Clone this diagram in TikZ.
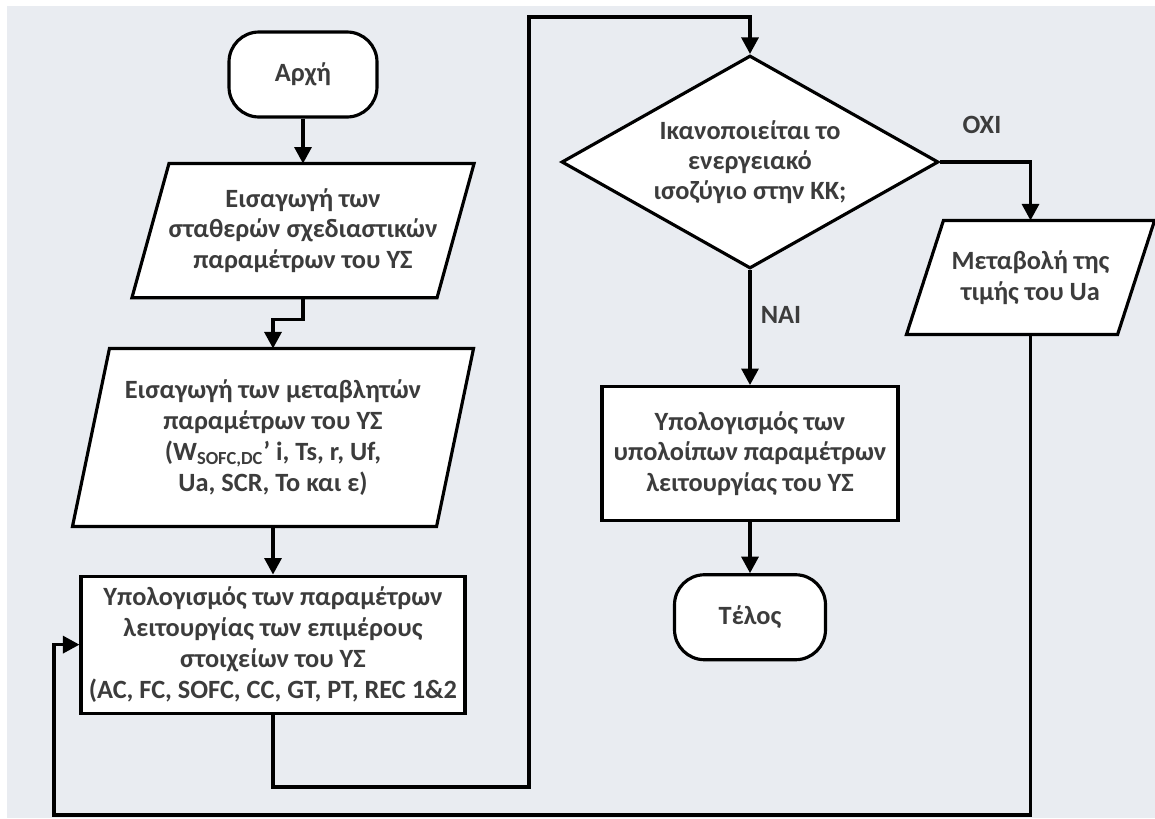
\documentclass[tikz,border=0pt]{standalone}
\usepackage{fontspec}
\setmainfont{Carlito}
\usetikzlibrary{positioning,shapes.geometric,arrows.meta,calc,backgrounds}
\definecolor{Panel}{RGB}{233,236,241}
\definecolor{Ink}{RGB}{60,60,60}

\begin{document}
\begin{tikzpicture}[x=0.02cm,y=-0.02cm,
    term/.style={rectangle,rounded corners=0.6cm,draw,line width=1.8pt,fill=white,
                 minimum width=2.96cm,minimum height=1.7cm,align=center,
                 font=\fontsize{15}{17.5}\selectfont\bfseries,text=Ink},
    inbox/.style={rectangle,inner sep=1pt,outer sep=0.9pt,align=center,
                  font=\fontsize{15}{17.5}\selectfont\bfseries,text=Ink},
    procbox/.style={rectangle,draw,line width=1.8pt,fill=white,inner sep=1pt,align=center,
                    font=\fontsize{15}{17.5}\selectfont\bfseries,text=Ink},
    decision/.style={diamond,aspect=1.77,draw,line width=1.8pt,fill=white,inner sep=0pt,
                     align=center,minimum width=7.54cm,minimum height=4.26cm,
                     font=\fontsize{15}{17}\selectfont\bfseries,text=Ink},
    answer/.style={font=\fontsize{15}{17}\selectfont\bfseries,text=Ink},
    arrow/.style={-{Triangle[length=3.3mm,width=3.4mm]},line width=1.8pt}
]
\useasboundingbox (0,0) rectangle (1155,818);

% Left column: start and the two input steps
\node[term] (start) at (303,74.5) {Αρχή};
\node[inbox,minimum width=6.78cm,minimum height=2.62cm,below=0.9cm of start] (in1) {
    Εισαγωγή των\\
    σταθερών σχεδιαστικών\\
    παραμέτρων του ΥΣ
};
\node[inbox,minimum width=7.96cm,minimum height=3.5cm] (in2) at (273,437.5) {
    Εισαγωγή των μεταβλητών\\
    παραμέτρων του ΥΣ\\
    (W\textsubscript{SOFC,DC}’ i, Ts, r, Uf,\\
    Ua, SCR, To και ε)
};
\node[procbox,minimum width=7.68cm,minimum height=2.74cm,below=0.96cm of in2] (calc1) {
    Υπολογισμός των παραμέτρων\\
    λειτουργίας των επιμέρους\\
    στοιχείων του ΥΣ\\
    (AC, FC, SOFC, CC, GT, PT, REC 1\&2
};

% Right column: energy balance check
\node[decision] (check) at (750,162) {
    Ικανοποιείται το\\
    ενεργειακό\\
    ισοζύγιο στην ΚΚ;
};
\node[procbox,minimum width=5.92cm,minimum height=2.68cm,below=2.3cm of check] (calc2) {
    Υπολογισμός των\\
    υπολοίπων παραμέτρων\\
    λειτουργίας του ΥΣ
};
\node[term,minimum width=3.02cm,below=1.02cm of calc2] (stop) {Τέλος};
\node[inbox,minimum width=4.9cm,minimum height=2.22cm] (change) at (1030.5,277.5) {
    Μεταβολή της\\
    τιμής του Ua
};

% Branch labels
\node[answer] (no) at (982,125) {ΟΧΙ};
\node[answer] (yes) at (781,315) {ΝΑΙ};

% Panel and slanted input boxes
\begin{scope}[on background layer]
  \fill[Panel] (7,6) rectangle (1155,818);
  \foreach \n in {in1,in2,change}
    \draw[line width=1.8pt,fill=white] ($(\n.north west)+(37,0)$) -- (\n.north east)
        -- ($(\n.south east)-(37,0)$) -- (\n.south west) -- cycle;
\end{scope}

% Connectors
\coordinate (loopA) at (529,787);
\coordinate (loopB) at (529,17);
\coordinate (backA) at (54,815);

\draw[arrow] (start.south) -- (in1.north);
\draw[arrow] (in1.south) -- ++(0,22) -| (in2.north);
\draw[arrow] (in2.south) -- (calc1.north);
\draw[arrow] (calc1.south) |- (loopA) -- (loopB) -| (check.north);
\draw[arrow] (check.east) -| (change.north);
\draw[arrow] (check.south) -- (calc2.north);
\draw[arrow] (calc2.south) -- (stop.north);
\draw[arrow] (change.south) |- (backA) |- (calc1.west);

\end{tikzpicture}
\end{document}
